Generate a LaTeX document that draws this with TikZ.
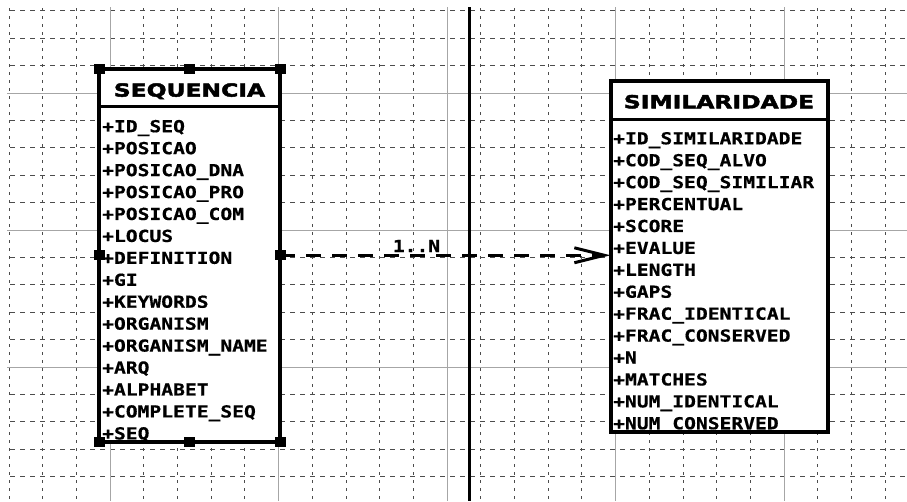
\documentclass[tikz,border=0pt]{standalone}
\usepackage{fontspec}
\usetikzlibrary{arrows.meta}
\newfontfamily\attrfont[FakeStretch=1.19,FakeBold=0.6]{DejaVu Sans Mono}
\newfontfamily\titlefont[FakeStretch=1.30,FakeBold=2.5]{DejaVu Sans}
\tikzset{
  gridminor/.style={black!70, line width=0.8pt, dash pattern=on 5pt off 5pt},
  gridmajor/.style={black!35, line width=1pt},
  classbox/.style={draw=black, fill=white, line width=4pt, inner sep=0pt, outer sep=0pt, anchor=north west},
  sepline/.style={black, line width=3.5pt},
  handle/.style={fill=black, inner sep=0pt, outer sep=0pt, minimum width=11pt, minimum height=10pt},
  attr/.style={anchor=base west, inner sep=0pt, font=\attrfont\bfseries\fontsize{16.5}{20}\selectfont},
  classtitle/.style={anchor=base, inner sep=0pt, font=\titlefont\bfseries\fontsize{18}{22}\selectfont},
  relation/.style={black, line width=3pt, dash pattern=on 15pt off 11pt, -{Straight Barb[length=30pt,width=15pt]}},
  rellabel/.style={anchor=base, inner sep=0pt, font=\attrfont\bfseries\fontsize{16.5}{20}\selectfont}
}
\begin{document}
\begin{tikzpicture}[x=1pt, y=-1pt]
\useasboundingbox (0,0) rectangle (907,501);
\fill[white] (0,0) rectangle (907,501);
% grid
\begin{scope}
\clip (7,7) rectangle (907,501);
\foreach \k in {-3,...,14}{
  \pgfmathtruncatemacro{\m}{mod(\k+15,5)}
  \ifnum\m=0
    \draw[gridmajor] (0,{93+27.4*\k}) -- (907,{93+27.4*\k});
  \else
    \draw[gridminor] (0,{93+27.4*\k}) -- (907,{93+27.4*\k});
  \fi
}
\foreach \k in {-3,...,23}{
  \pgfmathtruncatemacro{\m}{mod(\k+15,5)}
  \ifnum\m=0
    \draw[gridmajor] ({110+33.7*\k},0) -- ({110+33.7*\k},501);
  \else
    \draw[gridminor, dash pattern=on 3pt off 5pt] ({110+33.7*\k},0) -- ({110+33.7*\k},501);
  \fi
}
\end{scope}
% thick divider
\draw[black, line width=3.5pt] (469.3,7) -- (469.3,501);

% SEQUENCIA class
\node[classbox, minimum width=181pt, minimum height=372.5pt] (seq) at (99,69) {};
\draw[sepline] (seq.west |- 0,106.7) -- (seq.east |- 0,106.7);
\node[classtitle] (seqt) at (189.5,96.6) {SEQUENCIA};
\foreach \t [count=\i from 0] in {ID\_SEQ,POSICAO,POSICAO\_DNA,POSICAO\_PRO,POSICAO\_COM,LOCUS,DEFINITION,GI,KEYWORDS,ORGANISM,ORGANISM\_NAME,ARQ,ALPHABET,COMPLETE\_SEQ,SEQ}{
  \node[attr] (seqa\i) at (102,{132.2+21.94*\i}) {+\t};
}
% selection handles
\node[handle] (hnw) at (seq.north west) {};
\node[handle] (hn) at (seq.north) {};
\node[handle] (hne) at (seq.north east) {};
\node[handle] (hw) at (seq.west) {};
\node[handle] (he) at (seq.east) {};
\node[handle] (hsw) at (seq.south west) {};
\node[handle] (hs) at (seq.south) {};
\node[handle] (hse) at (seq.south east) {};

% SIMILARIDADE class
\node[classbox, minimum width=217.8pt, minimum height=350.7pt] (sim) at (610.5,81.3) {};
\draw[sepline] (sim.west |- 0,119.3) -- (sim.east |- 0,119.3);
\node[classtitle] (simt) at (719,108.3) {SIMILARIDADE};
\foreach \t [count=\i from 0] in {ID\_SIMILARIDADE,COD\_SEQ\_ALVO,COD\_SEQ\_SIMILIAR,PERCENTUAL,SCORE,EVALUE,LENGTH,GAPS,FRAC\_IDENTICAL,FRAC\_CONSERVED,N,MATCHES,NUM\_IDENTICAL,NUM\_CONSERVED}{
  \node[attr] (sima\i) at (613,{144.3+21.92*\i}) {+\t};
}

% relation
\draw[relation] (he.center) -- (sim.west |- he.center);
\node[rellabel] (mult) at (416.5,252) {1..N};
\end{tikzpicture}
\end{document}
